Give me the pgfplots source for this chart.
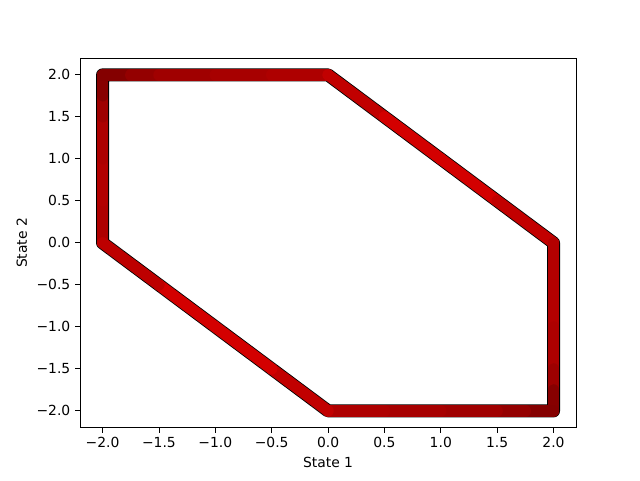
\documentclass[border=0pt]{standalone}
\usepackage{fontspec}
\setmainfont{DejaVu Sans}
\usepackage{pgfplots}
\usepackage{pgfplotstable}
\pgfplotsset{compat=1.18}
\pgfplotstableread{
x y c
-2 0 0.62
-2 0.5 0.68
-2 1 0.68
-2 1.5 0.6
-2 1.75 0.45
-2 2 0.25
-1.75 2 0.4
-1.5 2 0.5
-1 2 0.58
-0.5 2 0.62
0 2 0.68
0.5 1.5 0.92
1 1 0.95
1.5 0.5 0.92
2 0 0.7
2 -0.5 0.68
2 -1 0.68
2 -1.5 0.6
2 -1.75 0.45
2 -2 0.25
1.75 -2 0.4
1.5 -2 0.5
1 -2 0.58
0.5 -2 0.62
0 -2 0.68
-0.5 -1.5 0.92
-1 -1 0.95
-1.5 -0.5 0.92
-2 0 0.62
}\hexdata
\begin{document}
\begin{tikzpicture}
\begin{axis}[
  name=ax,
  scale only axis,
  width=357pt, height=266pt,
  xmin=-2.2, xmax=2.2, ymin=-2.2, ymax=2.2,
  xtick={-2,-1.5,-1,-0.5,0,0.5,1,1.5,2},
  xticklabels={−2.0,−1.5,−1.0,−0.5,0.0,0.5,1.0,1.5,2.0},
  ytick={-2,-1.5,-1,-0.5,0,0.5,1,1.5,2},
  yticklabels={−2.0,−1.5,−1.0,−0.5,0.0,0.5,1.0,1.5,2.0},
  xtick pos=bottom, ytick pos=left,
  tick align=outside,
  major tick length=3.5pt,
  tick style={black, line width=0.6pt},
  axis line style={line width=0.6pt},
  ticklabel style={font=\fontsize{10}{12}\selectfont},
  label style={font=\fontsize{10}{12}\selectfont},
  xlabel={State 1}, ylabel={State 2},
  colormap={reds}{rgb255(0cm)=(90,0,0); rgb255(1cm)=(218,0,0)},
  point meta min=0, point meta max=1,
]
\addplot[black, line width=9.4pt, line join=round, line cap=round] table[x=x,y=y] {\hexdata};
\addplot[mesh, line width=8.2pt, line join=round, line cap=round, point meta=explicit] table[x=x,y=y,meta=c] {\hexdata};
\end{axis}
\path ([xshift=-57.6pt,yshift=-38.2pt]ax.south west) rectangle ([xshift=46pt,yshift=41.8pt]ax.north east);
\end{tikzpicture}
\end{document}
